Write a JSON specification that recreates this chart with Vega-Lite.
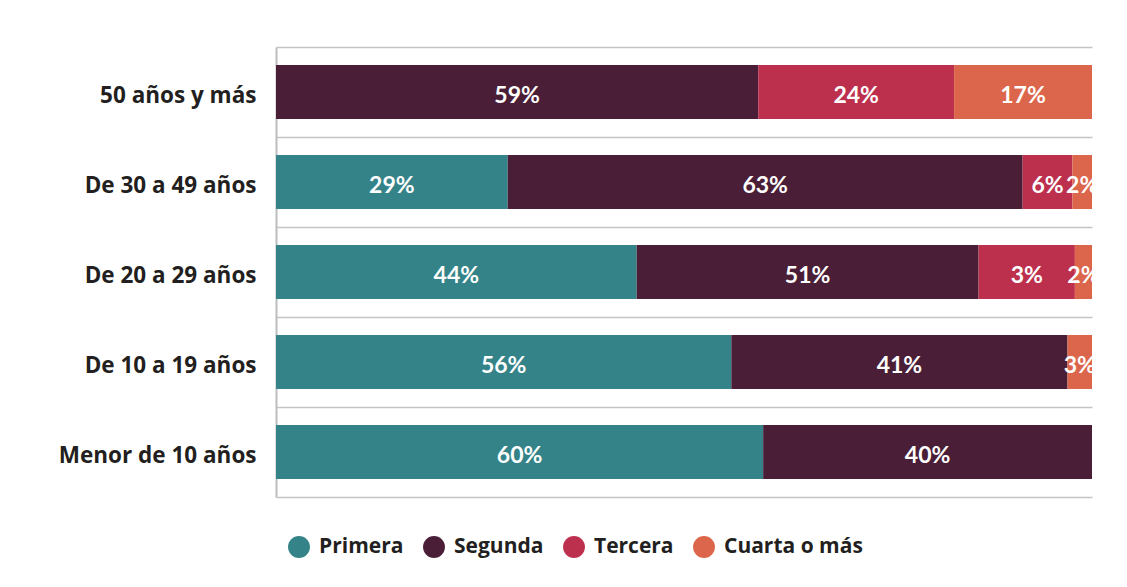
{
  "$schema": "https://vega.github.io/schema/vega-lite/v6.json",
  "autosize": {"type": "none"},
  "width": 816,
  "height": 450,
  "padding": {"left": 276, "top": 47, "right": 35, "bottom": 90},
  "background": "white",
  "config": {"view": {"stroke": null}},
  "data": {"values": [
    {"edad": "50 años y más", "orden_hijo": "Segunda", "o": 2, "pct": 59.1, "label": "59%"},
    {"edad": "50 años y más", "orden_hijo": "Tercera", "o": 3, "pct": 24.0, "label": "24%"},
    {"edad": "50 años y más", "orden_hijo": "Cuarta o más", "o": 4, "pct": 16.9, "label": "17%"},
    {"edad": "De 30 a 49 años", "orden_hijo": "Primera", "o": 1, "pct": 28.4, "label": "29%"},
    {"edad": "De 30 a 49 años", "orden_hijo": "Segunda", "o": 2, "pct": 63.1, "label": "63%"},
    {"edad": "De 30 a 49 años", "orden_hijo": "Tercera", "o": 3, "pct": 6.1, "label": "6%"},
    {"edad": "De 30 a 49 años", "orden_hijo": "Cuarta o más", "o": 4, "pct": 2.4, "label": "2%"},
    {"edad": "De 20 a 29 años", "orden_hijo": "Primera", "o": 1, "pct": 44.2, "label": "44%"},
    {"edad": "De 20 a 29 años", "orden_hijo": "Segunda", "o": 2, "pct": 41.9, "label": "51%"},
    {"edad": "De 20 a 29 años", "orden_hijo": "Tercera", "o": 3, "pct": 11.8, "label": "3%"},
    {"edad": "De 20 a 29 años", "orden_hijo": "Cuarta o más", "o": 4, "pct": 2.1, "label": "2%"},
    {"edad": "De 10 a 19 años", "orden_hijo": "Primera", "o": 1, "pct": 55.8, "label": "56%"},
    {"edad": "De 10 a 19 años", "orden_hijo": "Segunda", "o": 2, "pct": 41.2, "label": "41%"},
    {"edad": "De 10 a 19 años", "orden_hijo": "Cuarta o más", "o": 4, "pct": 3.0, "label": "3%"},
    {"edad": "Menor de 10 años", "orden_hijo": "Primera", "o": 1, "pct": 59.7, "label": "60%"},
    {"edad": "Menor de 10 años", "orden_hijo": "Segunda", "o": 2, "pct": 40.3, "label": "40%"}
  ]},
  "encoding": {
    "y": {
      "field": "edad", "type": "nominal",
      "sort": ["50 años y más", "De 30 a 49 años", "De 20 a 29 años", "De 10 a 19 años", "Menor de 10 años"],
      "scale": {"paddingInner": 0.4, "paddingOuter": 0.2},
      "axis": {
        "title": null, "ticks": false, "grid": true, "bandPosition": -0.3333,
        "gridColor": "#c4c4c4", "gridWidth": 1.5,
        "domainColor": "#bdbdbd", "domainWidth": 2,
        "labelFont": "Open Sans", "labelFontWeight": "bold", "labelFontSize": 22.5,
        "labelColor": "#231f20", "labelPadding": 20, "labelOffset": 4, "labelLimit": 300
      }
    },
    "x": {
      "field": "pct", "type": "quantitative", "stack": "normalize",
      "axis": {"title": null, "labels": false, "ticks": false, "grid": false, "domainColor": "#c4c4c4", "domainWidth": 1.5}
    },
    "order": {"field": "o", "type": "quantitative"}
  },
  "layer": [
    {
      "mark": {"type": "bar"},
      "encoding": {
        "color": {
          "field": "orden_hijo", "type": "nominal",
          "scale": {
            "domain": ["Primera", "Segunda", "Tercera", "Cuarta o más"],
            "range": ["#348388", "#4a1e36", "#bc304e", "#dc664b"]
          },
          "legend": {
            "title": null, "orient": "bottom", "direction": "horizontal",
            "symbolType": "circle", "symbolSize": 480, "symbolStrokeWidth": 0,
            "labelFont": "Open Sans", "labelFontWeight": "bold", "labelFontSize": 21,
            "labelColor": "#231f20", "columnPadding": 19, "labelOffset": 9,
            "offset": 27, "padding": 12
          }
        }
      }
    },
    {
      "mark": {"type": "text", "color": "white", "font": "Lato", "fontWeight": "bold", "fontSize": 23, "baseline": "middle", "dy": 4},
      "encoding": {
        "x": {"field": "pct", "type": "quantitative", "stack": "normalize", "bandPosition": 0.5},
        "text": {"field": "label"}
      }
    }
  ]
}
